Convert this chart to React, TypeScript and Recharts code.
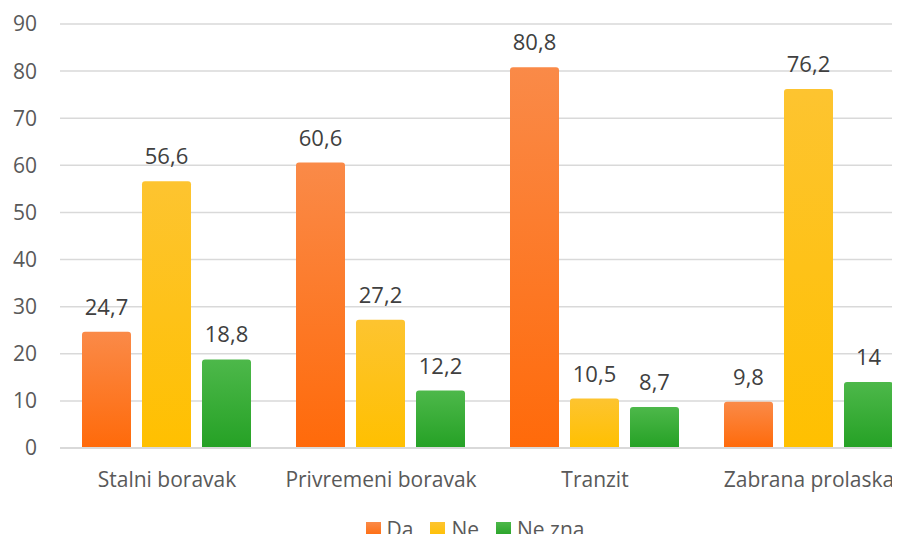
import { Bar, BarChart, CartesianGrid, LabelList, XAxis, YAxis } from 'recharts';

const categories = ['Stalni boravak', 'Privremeni boravak', 'Tranzit', 'Zabrana prolaska'];
const da = [24.7, 60.6, 80.8, 9.8];
const ne = [56.6, 27.2, 10.5, 76.2];
const neZna = [18.8, 12.2, 8.7, 14];
const yTicks = [0, 10, 20, 30, 40, 50, 60, 70, 80, 90];

const data = categories.map((name, i) => ({ name, da: da[i], ne: ne[i], neZna: neZna[i] }));

const TEXT = '#595959';
const FONT = '"Open Sans", sans-serif';

const series = [
  { key: 'da', label: 'Da', top: '#FA8A48', bottom: '#FF6A0A' },
  { key: 'ne', label: 'Ne', top: '#FDC430', bottom: '#FFC000' },
  { key: 'neZna', label: 'Ne zna', top: '#4DB84A', bottom: '#25A125' },
];

const fmt = (v: any) => String(v).replace('.', ',');

export default function App() {
  return (
    <div style={{ margin: -8, width: 900, height: 542, overflow: 'hidden', position: 'relative', fontFamily: FONT }}>
      <BarChart
        width={916}
        height={542}
        data={data}
        margin={{ top: 24, right: 0, left: 0, bottom: 54 }}
        barCategoryGap={22}
        barGap={11}
      >
        <defs>
          {series.map((s) => (
            <linearGradient key={s.key} id={`g-${s.key}`} x1="0" y1="0" x2="0" y2="1">
              <stop offset="0%" stopColor={s.top} />
              <stop offset="100%" stopColor={s.bottom} />
            </linearGradient>
          ))}
        </defs>
        <CartesianGrid vertical={false} stroke="#D9D9D9" strokeWidth={1.5} />
        <XAxis
          dataKey="name"
          height={40}
          tickLine={false}
          axisLine={{ stroke: '#D9D9D9', strokeWidth: 2 }}
          tick={{ fill: TEXT, fontSize: 21, fontFamily: FONT }}
          tickMargin={18}
          interval={0}
        />
        <YAxis
          domain={[0, 90]}
          ticks={yTicks}
          width={60}
          tickLine={false}
          axisLine={false}
          tickSize={0}
          tickMargin={23}
          tick={{ fill: TEXT, fontSize: 21, fontFamily: FONT }}
        />
        {series.map((s) => (
          <Bar key={s.key} dataKey={s.key} fill={`url(#g-${s.key})`} radius={[3, 3, 0, 0]} isAnimationActive={false}>
            <LabelList
              dataKey={s.key}
              position="top"
              offset={17}
              formatter={fmt}
              style={{ fill: '#404040', fontSize: 22, fontFamily: FONT }}
            />
          </Bar>
        ))}
      </BarChart>
      <div
        style={{
          position: 'absolute',
          top: 517,
          left: 0,
          width: 950,
          display: 'flex',
          justifyContent: 'center',
          gap: 17,
          color: TEXT,
          fontSize: 21,
          lineHeight: '24px',
        }}
      >
        {series.map((s) => (
          <div key={s.key} style={{ display: 'flex', alignItems: 'center', gap: 6 }}>
            <span
              style={{
                display: 'inline-block',
                width: 15,
                height: 15,
                background: `linear-gradient(${s.top}, ${s.bottom})`,
              }}
            />
            <span>{s.label}</span>
          </div>
        ))}
      </div>
    </div>
  );
}
